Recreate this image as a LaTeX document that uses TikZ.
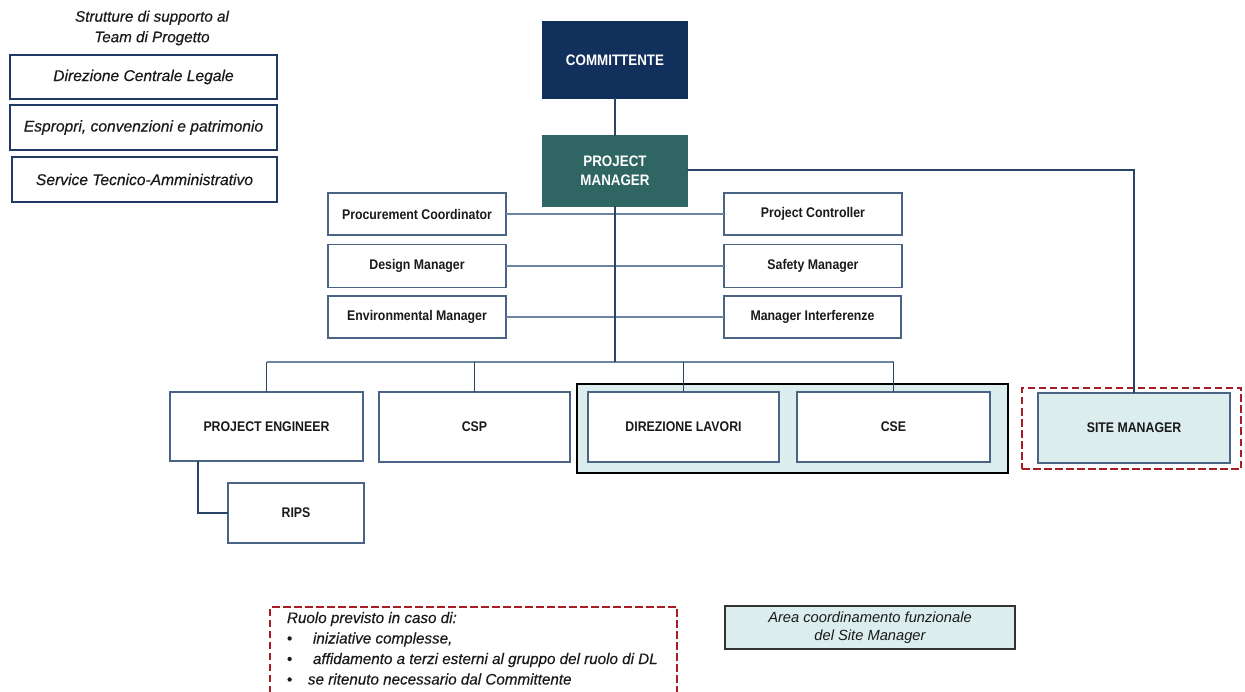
\documentclass[tikz,border=0pt]{standalone}
\usepackage{fontspec}
\setmainfont{Liberation Sans}
\newfontfamily\narrowbold{Liberation Sans}[FakeStretch=0.88]
\newfontfamily\italfont{Liberation Sans}[FakeBold=0.4]
\usetikzlibrary{calc}
\definecolor{navybox}{HTML}{12305C}
\definecolor{pmteal}{HTML}{2F6563}
\definecolor{lcyan}{HTML}{DCEDEE}
\definecolor{dred}{HTML}{A81D24}
\definecolor{lnc}{HTML}{2A4468}
\definecolor{lnlight}{HTML}{6A84A2}
\definecolor{bdr}{HTML}{4A6485}
\definecolor{bdrdark}{HTML}{1F3B63}
\definecolor{txt}{HTML}{1A1A1A}
\tikzset{
  base/.style={inner sep=0pt, outer sep=0pt, align=center, text=txt},
  box/.style={base, draw=bdr, line width=1.2pt, fill=white, font=\narrowbold\bfseries\fontsize{14}{16}\selectfont},
  topbox/.style={base, line width=1.2pt, text=white, font=\narrowbold\bfseries\fontsize{15.2}{19.5}\selectfont},
  sidebox/.style={base, draw=bdrdark, line width=2.2pt, fill=white, font=\italfont\itshape\fontsize{15.6}{19}\selectfont},
  conn/.style={draw=lnc, line width=1.4pt},
  connlight/.style={draw=lnlight, line width=1.6pt},
  reddash/.style={draw=dred, line width=2.6pt, dash pattern=on 7.5pt off 3.5pt},
}
\begin{document}
\begin{tikzpicture}[x=1pt,y=-1pt]
\useasboundingbox (0,0) rectangle (1245,692);
% left support structures
\node[base, font=\italfont\itshape\fontsize{15.2}{20.5}\selectfont] (title) at (152,28) {Strutture di supporto al\\Team di Progetto};
\node[sidebox, minimum width=267pt, minimum height=44pt] (legal) at (143.5,77) {Direzione Centrale Legale};
\node[sidebox, minimum width=267pt, minimum height=45pt] (espr) at (143.5,127.5) {Espropri, convenzioni e patrimonio};
\node[sidebox, minimum width=265pt, minimum height=45pt] (serv) at (144.5,179.5) {Service Tecnico-Amministrativo};
% top
\node[topbox, fill=navybox, draw=navybox, minimum width=144pt, minimum height=76pt] (comm) at (615,60) {COMMITTENTE};
\node[topbox, fill=pmteal, draw=pmteal, minimum width=144pt, minimum height=70pt] (pm) at (615,171) {PROJECT\\MANAGER};
% staff
\node[box, minimum width=178pt, minimum height=42pt] (proc) at (417,214) {Procurement Coordinator};
\node[box, minimum width=178pt, minimum height=43pt] (design) at (417,266) {Design Manager};
\node[box, minimum width=178pt, minimum height=42pt] (env) at (417,317) {Environmental Manager};
\node[box, minimum width=178pt, minimum height=42pt] (ctrl) at (813,214) {Project Controller};
\node[box, minimum width=178pt, minimum height=43pt] (safety) at (813,266) {Safety Manager};
\node[box, minimum width=177pt, minimum height=42pt] (interf) at (812.5,317) {Manager Interferenze};
% group area
\node[base, draw=black, fill=lcyan, line width=1.4pt, minimum width=431pt, minimum height=89pt] (group) at (792.5,428.5) {};
% line bottom
\node[box, minimum width=193pt, minimum height=69pt] (pe) at (266.5,426.5) {PROJECT ENGINEER};
\node[box, minimum width=191pt, minimum height=70pt] (csp) at (474.5,427) {CSP};
\node[box, minimum width=191pt, minimum height=70pt] (dl) at (683.5,427) {DIREZIONE LAVORI};
\node[box, minimum width=193pt, minimum height=70pt] (cse) at (893.5,427) {CSE};
\node[base, reddash, minimum width=219pt, minimum height=81pt] (sitedash) at (1131.5,428.5) {};
\node[box, fill=lcyan, minimum width=192pt, minimum height=70pt] (site) at (1134,428) {SITE MANAGER};
\node[box, minimum width=136pt, minimum height=60pt] (rips) at (296,513) {RIPS};
% connectors
\coordinate (bus) at (615,362);
\coordinate (busl) at (pe.north |- bus);
\coordinate (busr) at (cse.north |- bus);
\draw[connlight] (proc.east) -- (ctrl.west);
\draw[connlight] (design.east) -- (safety.west);
\draw[connlight] (env.east) -- (interf.west);
\draw[connlight] (busl) -- (busr);
\draw[conn] (comm.south) -- (pm.north);
\draw[conn] (pm.east |- 0,170) -| (site.north);
\draw[conn] (pm.south) -- (bus);
\draw[conn] (pe.north) -- (busl);
\draw[conn] (cse.north) -- (busr);
\draw[conn] (csp.north) -- (csp.north |- bus);
\draw[conn] (dl.north) -- (dl.north |- bus);
\draw[conn] (198,461) |- (rips.west);
% note
\draw[reddash] (270,693) |- (677,607) -- (677,693);
\node[base, anchor=north west, align=left, font=\italfont\itshape\fontsize{15.2}{20.5}\selectfont] (note) at (287,612)
 {Ruolo previsto in caso di:\\
  \makebox[26pt][l]{\upshape•}iniziative complesse,\\
  \makebox[26pt][l]{\upshape•}affidamento a terzi esterni al gruppo del ruolo di DL\\
  \makebox[21pt][l]{\upshape•}se ritenuto necessario dal Committente};
\node[base, draw=black!80, fill=lcyan, line width=1.4pt, minimum width=290pt, minimum height=43pt, font=\itshape\fontsize{14.7}{18}\selectfont] (area) at (870,627.5) {Area coordinamento funzionale\\del Site Manager};
\end{tikzpicture}
\end{document}
